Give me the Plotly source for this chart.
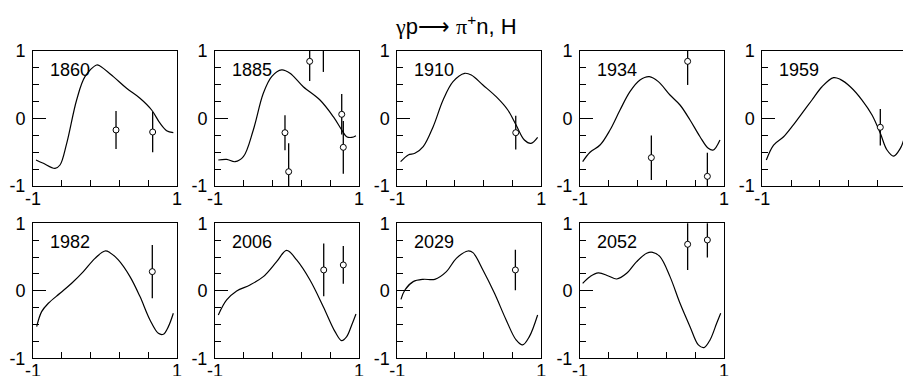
import plotly.graph_objects as go

# ---------------- data ----------------
energies = ["1860", "1885", "1910", "1934", "1959", "1982", "2006", "2029", "2052"]

curve_x_1860 = [-0.958, -0.856, -0.694, -0.625, -0.532, -0.394, -0.278, -0.116, -0.07, 0.116, 0.30, 0.486, 0.648, 0.764, 0.856, 0.949]
curve_y_1860 = [-0.615, -0.664, -0.738, -0.689, -0.368, 0.274, 0.62, 0.793, 0.778, 0.62, 0.447, 0.30, 0.126, -0.07, -0.18, -0.21]

curve_x_1885 = [-0.954, -0.838, -0.722, -0.606, -0.468, -0.329, -0.213, -0.074, 0.042, 0.226, 0.458, 0.643, 0.76, 0.829, 0.899, 0.958]
curve_y_1885 = [-0.615, -0.605, -0.64, -0.565, -0.17, 0.373, 0.62, 0.72, 0.67, 0.471, 0.274, 0.027, -0.17, -0.27, -0.28, -0.255]

curve_x_1910 = [-0.954, -0.848, -0.756, -0.64, -0.502, -0.364, -0.226, -0.065, 0.028, 0.189, 0.373, 0.535, 0.65, 0.765, 0.857, 0.949]
curve_y_1910 = [-0.64, -0.54, -0.516, -0.417, -0.121, 0.274, 0.546, 0.669, 0.644, 0.496, 0.323, 0.126, -0.096, -0.319, -0.368, -0.279]

curve_x_1934 = [-0.963, -0.861, -0.722, -0.583, -0.444, -0.306, -0.167, -0.037, 0.088, 0.25, 0.389, 0.528, 0.667, 0.782, 0.852, 0.944]
curve_y_1934 = [-0.64, -0.5, -0.393, -0.17, 0.126, 0.398, 0.57, 0.62, 0.546, 0.348, 0.2, -0.022, -0.27, -0.442, -0.467, -0.319]

curve_x_1959 = [-0.944, -0.843, -0.704, -0.588, -0.449, -0.31, -0.171, -0.01, 0.083, 0.222, 0.385, 0.524, 0.639, 0.732, 0.824, 0.917, 0.963]
curve_y_1959 = [-0.615, -0.393, -0.27, -0.121, 0.077, 0.274, 0.471, 0.605, 0.58, 0.471, 0.274, 0.052, -0.22, -0.467, -0.556, -0.442, -0.32]

curve_x_1982 = [-0.949, -0.88, -0.787, -0.625, -0.463, -0.301, -0.139, 0.0, 0.069, 0.185, 0.347, 0.486, 0.625, 0.741, 0.81, 0.88, 0.949]
curve_y_1982 = [-0.531, -0.309, -0.185, -0.037, 0.111, 0.284, 0.481, 0.59, 0.565, 0.457, 0.21, -0.086, -0.432, -0.63, -0.644, -0.531, -0.333]

curve_x_2006 = [-0.954, -0.838, -0.699, -0.514, -0.329, -0.144, -0.005, 0.134, 0.319, 0.504, 0.667, 0.759, 0.829, 0.899, 0.958]
curve_y_2006 = [-0.358, -0.136, -0.003, 0.086, 0.21, 0.432, 0.60, 0.457, 0.16, -0.235, -0.605, -0.738, -0.679, -0.506, -0.343]

curve_x_2029 = [-0.949, -0.894, -0.779, -0.64, -0.479, -0.318, -0.18, -0.018, 0.051, 0.189, 0.35, 0.512, 0.65, 0.742, 0.834, 0.949]
curve_y_2029 = [-0.126, 0.012, 0.136, 0.17, 0.17, 0.284, 0.481, 0.59, 0.565, 0.309, -0.037, -0.432, -0.728, -0.802, -0.679, -0.358]

curve_x_2052 = [-0.963, -0.861, -0.745, -0.606, -0.49, -0.352, -0.213, -0.074, 0.009, 0.111, 0.25, 0.389, 0.528, 0.644, 0.722, 0.806, 0.898, 0.954]
curve_y_2052 = [0.111, 0.21, 0.265, 0.22, 0.175, 0.259, 0.432, 0.556, 0.57, 0.506, 0.21, -0.185, -0.531, -0.802, -0.842, -0.728, -0.481, -0.333]

pts_x_1860 = [0.153, 0.662]
pts_y_1860 = [-0.17, -0.20]
pts_e_1860 = [0.28, 0.30]

pts_x_1885 = [-0.028, 0.023, 0.315, 0.505, 0.76, 0.782]
pts_y_1885 = [-0.21, -0.788, 0.847, 1.08, 0.062, -0.427]
pts_e_1885 = [0.26, 0.42, 0.29, 0.39, 0.30, 0.39]

pts_x_1910 = [0.645]
pts_y_1910 = [-0.21]
pts_e_1910 = [0.25]

pts_x_1934 = [-0.009, 0.495, 0.769]
pts_y_1934 = [-0.58, 0.847, -0.857]
pts_e_1934 = [0.33, 0.35, 0.35]

pts_x_1959 = [0.639]
pts_y_1959 = [-0.13]
pts_e_1959 = [0.27]

pts_x_1982 = [0.657]
pts_y_1982 = [0.284]
pts_e_1982 = [0.395]

pts_x_2006 = [0.51, 0.782]
pts_y_2006 = [0.309, 0.383]
pts_e_2006 = [0.39, 0.28]

pts_x_2029 = [0.64]
pts_y_2029 = [0.309]
pts_e_2029 = [0.30]

pts_x_2052 = [0.495, 0.769]
pts_y_2052 = [0.689, 0.753]
pts_e_2052 = [0.38, 0.26]

curves_x = [curve_x_1860, curve_x_1885, curve_x_1910, curve_x_1934, curve_x_1959,
            curve_x_1982, curve_x_2006, curve_x_2029, curve_x_2052]
curves_y = [curve_y_1860, curve_y_1885, curve_y_1910, curve_y_1934, curve_y_1959,
            curve_y_1982, curve_y_2006, curve_y_2029, curve_y_2052]
pts_x = [pts_x_1860, pts_x_1885, pts_x_1910, pts_x_1934, pts_x_1959,
         pts_x_1982, pts_x_2006, pts_x_2029, pts_x_2052]
pts_y = [pts_y_1860, pts_y_1885, pts_y_1910, pts_y_1934, pts_y_1959,
         pts_y_1982, pts_y_2006, pts_y_2029, pts_y_2052]
pts_e = [pts_e_1860, pts_e_1885, pts_e_1910, pts_e_1934, pts_e_1959,
         pts_e_1982, pts_e_2006, pts_e_2029, pts_e_2052]

x_ticks = [-1, 1]
x_tick_text = ["-1", "1"]
y_ticks = [-1, 0, 1]
y_tick_text = ["-1", "0", "1"]
x_minor = [-0.6, -0.2, 0.2, 0.6]
y_minor = [-0.75, -0.5, -0.25, 0.25, 0.5, 0.75]

title_text = ("<span style=\"font-family:'Liberation Serif'\">γ</span>p"
              "<span style=\"font-family:'DejaVu Sans';font-weight:200\">⟶</span> "
              "<span style=\"font-family:'Liberation Serif'\">π</span><sup>+</sup>n, H")

# ---------------- layout ----------------
W, H = 903, 376
FONT = "Liberation Sans, Arial, Helvetica, sans-serif"
col_left = [33, 215, 397.3, 580, 762.3]
panel_w = 144
row_top = [51, 223.3]
panel_h = 135

fig = go.Figure()
layout = dict(
    width=W, height=H,
    margin=dict(l=0, r=0, t=0, b=0, autoexpand=False),
    paper_bgcolor="white", plot_bgcolor="white",
    showlegend=False,
    font=dict(family=FONT, size=18, color="black"),
)
annotations = []

for i, e in enumerate(energies):
    r, c = divmod(i, 5)
    n = i + 1
    xa = "x" if n == 1 else f"x{n}"
    ya = "y" if n == 1 else f"y{n}"
    left = col_left[c]
    right = left + panel_w
    xmax = 1.0
    if right > W:
        xmax = -1 + 2 * (W - left) / panel_w
        right = W
    top = row_top[r]
    bot = top + panel_h
    xdom = [left / W, right / W]
    ydom = [1 - bot / H, 1 - top / H]

    layout["xaxis" if n == 1 else f"xaxis{n}"] = dict(
        domain=xdom, range=[-1, xmax], anchor=ya, automargin=False,
        showline=True, linecolor="black", linewidth=1, mirror=True,
        showgrid=False, zeroline=False,
        tickmode="array", tickvals=x_ticks, ticktext=x_tick_text,
        ticks="inside", ticklen=6, tickcolor="black",
        tickfont=dict(size=18, family=FONT, color="black"),
        ticklabelstandoff=-4,
        minor=dict(tickmode="array", tickvals=x_minor, ticks="inside",
                   ticklen=6, tickcolor="black", showgrid=False),
        fixedrange=True,
    )
    layout["yaxis" if n == 1 else f"yaxis{n}"] = dict(
        domain=ydom, range=[-1, 1], anchor=xa, automargin=False,
        showline=True, linecolor="black", linewidth=1,
        mirror=(xmax >= 1.0),
        showgrid=False, zeroline=False,
        tickmode="array", tickvals=y_ticks, ticktext=y_tick_text,
        ticks="inside", ticklen=13, tickcolor="black",
        tickfont=dict(size=18, family=FONT, color="black"),
        ticklabelstandoff=3,
        minor=dict(tickmode="array", tickvals=y_minor, ticks="inside",
                   ticklen=6, tickcolor="black", showgrid=False),
        fixedrange=True,
    )

    fig.add_trace(go.Scatter(
        x=curves_x[i], y=curves_y[i], mode="lines",
        line=dict(color="black", width=1.2, shape="spline", smoothing=1.0),
        xaxis=xa, yaxis=ya, hoverinfo="skip",
    ))
    fig.add_trace(go.Scatter(
        x=pts_x[i], y=pts_y[i], mode="markers",
        marker=dict(symbol="circle", size=6, color="white",
                    line=dict(color="black", width=1)),
        error_y=dict(type="data", array=pts_e[i], color="black",
                     thickness=1.3, width=0),
        xaxis=xa, yaxis=ya, cliponaxis=True,
    ))
    annotations.append(dict(
        text=e, x=-0.79, y=0.72, xref=xa, yref=ya,
        xanchor="left", yanchor="middle", showarrow=False,
        font=dict(size=18, family=FONT, color="black"),
    ))

annotations.append(dict(
    text=title_text, x=456.5 / W, y=1 - 25 / H, xref="paper", yref="paper",
    xanchor="center", yanchor="middle", showarrow=False,
    font=dict(size=22, family=FONT, color="black"),
))
layout["annotations"] = annotations
fig.update_layout(**layout)

fig.write_html(
    "out.html",
    config={"displayModeBar": False, "staticPlot": True},
    post_script="document.body.style.margin='0px';document.body.style.overflow='hidden';",
)
